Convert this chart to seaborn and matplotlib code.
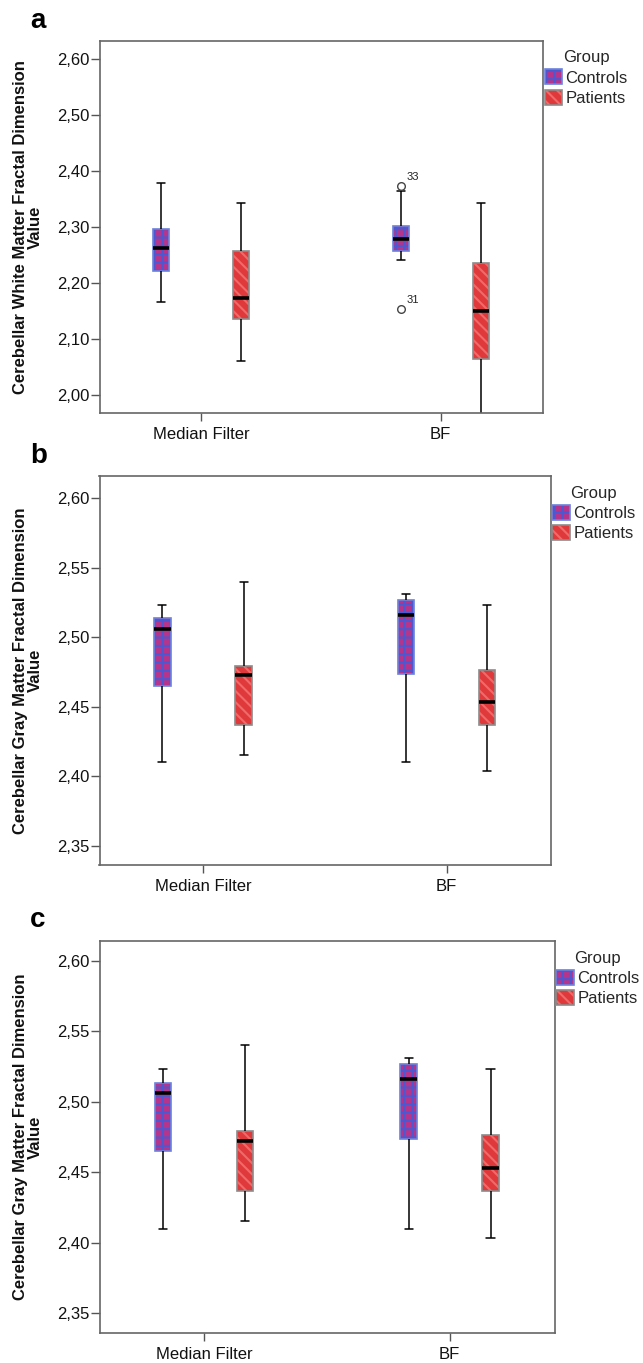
import numpy as np
import pandas as pd
import matplotlib
matplotlib.use("Agg")
import matplotlib.pyplot as plt
import matplotlib.colors as mcolors
from matplotlib.patches import Patch
from matplotlib.ticker import FuncFormatter
import seaborn as sns

# ---------------- data (five-number summaries: low whisker, Q1, median, Q3, high whisker)
filters = ["Median Filter", "BF"]
groups = ["Controls", "Patients"]

a_controls_mf = [2.166, 2.222, 2.263, 2.297, 2.379]
a_patients_mf = [2.061, 2.135, 2.174, 2.258, 2.343]
a_controls_bf = [2.241, 2.258, 2.279, 2.302, 2.365]
a_patients_bf = [1.950, 2.064, 2.150, 2.236, 2.343]
a_outlier_values = [2.373, 2.153]
a_outlier_ids = ["33", "31"]

b_controls_mf = [2.410, 2.465, 2.506, 2.5135, 2.523]
b_patients_mf = [2.4155, 2.4365, 2.4725, 2.4795, 2.540]
b_controls_bf = [2.410, 2.4735, 2.516, 2.527, 2.531]
b_patients_bf = [2.4035, 2.4365, 2.453, 2.4765, 2.523]

c_controls_mf = [2.410, 2.465, 2.506, 2.5135, 2.523]
c_patients_mf = [2.4155, 2.4365, 2.4725, 2.4795, 2.540]
c_controls_bf = [2.410, 2.4735, 2.516, 2.527, 2.531]
c_patients_bf = [2.4035, 2.4365, 2.453, 2.4765, 2.523]

a_ticks = [2.00, 2.10, 2.20, 2.30, 2.40, 2.50, 2.60]
bc_ticks = [2.35, 2.40, 2.45, 2.50, 2.55, 2.60]

ylabel_white = "Cerebellar White Matter Fractal Dimension\nValue"
ylabel_gray = "Cerebellar Gray Matter Fractal Dimension\nValue"

# ---------------- style
sns.set_theme(style="white")
plt.rcParams["font.family"] = ["Liberation Sans", "DejaVu Sans"]
plt.rcParams["hatch.linewidth"] = 1.5

palette = {"Controls": "#b5358c", "Patients": "#e0393b"}
edge_colors = {"Controls": "#6d82dc", "Patients": "#8c8c8c"}
hatch_colors = {"Controls": "#4c58d0", "Patients": "#f06a6a"}
hatches = {"Controls": "++", "Patients": "\\\\\\"}


def set_hatch_color(p, c):
    rgba = mcolors.to_rgba(c)
    if hasattr(p, "set_hatchcolor"):
        try:
            p.set_hatchcolor(rgba)
            return
        except Exception:
            pass
    p._hatch_color = rgba


def long_table(cmf, pmf, cbf, pbf):
    rows = []
    for filt, grp, vals in [("Median Filter", "Controls", cmf), ("Median Filter", "Patients", pmf),
                            ("BF", "Controls", cbf), ("BF", "Patients", pbf)]:
        for v in vals:
            rows.append({"Filter": filt, "Group": grp, "Value": v})
    return pd.DataFrame(rows)


W, H = 643, 1363
fig = plt.figure(figsize=(W / 100, H / 100), dpi=100)


def add_ax(left, top, right, bottom):
    return fig.add_axes([left / W, 1 - bottom / H, (right - left) / W, (bottom - top) / H])


panels = [
    dict(box=(99.5, 41, 543, 413), df=long_table(a_controls_mf, a_patients_mf, a_controls_bf, a_patients_bf),
         ylim=(1.968, 2.632), ticks=a_ticks, ylabel=ylabel_white, letter="a", letter_y=28),
    dict(box=(99.5, 476, 550.5, 865), df=long_table(b_controls_mf, b_patients_mf, b_controls_bf, b_patients_bf),
         ylim=(2.336, 2.616), ticks=bc_ticks, ylabel=ylabel_gray, letter="b", letter_y=463),
    dict(box=(99.5, 941, 554.5, 1333), df=long_table(c_controls_mf, c_patients_mf, c_controls_bf, c_patients_bf),
         ylim=(2.336, 2.614), ticks=bc_ticks, ylabel=ylabel_gray, letter="c", letter_y=927),
]

fmt = FuncFormatter(lambda v, _: f"{v:.2f}".replace(".", ","))
dodge = 0.667 / 4

for i, pnl in enumerate(panels):
    ax = add_ax(*pnl["box"])
    sns.boxplot(data=pnl["df"], x="Filter", y="Value", hue="Group", order=filters, hue_order=groups,
                palette=palette, saturation=1, width=0.667, gap=0.8, whis=(0, 100),
                linecolor="black", linewidth=1.1, showfliers=False, legend=False,
                medianprops=dict(color="black", linewidth=2.6), ax=ax)
    for p in ax.patches:
        fc = mcolors.to_hex(p.get_facecolor())
        for g in groups:
            if fc == mcolors.to_hex(palette[g]):
                p.set_edgecolor(edge_colors[g])
                p.set_linewidth(1.2)
                p.set_hatch(hatches[g])
                set_hatch_color(p, hatch_colors[g])
    ax.set_xlim(-0.425, 1.427)
    ax.set_ylim(*pnl["ylim"])
    ax.set_yticks(pnl["ticks"])
    ax.yaxis.set_major_formatter(fmt)
    ax.set_xlabel("")
    ax.set_ylabel("")
    ax.tick_params(axis="y", left=True, length=6.5, width=1, color="#555555", pad=0.5,
                   labelsize=12, labelcolor="#111111")
    ax.tick_params(axis="x", bottom=True, length=6, width=1, color="#555555", pad=4,
                   labelsize=12, labelcolor="#111111")
    for s in ax.spines.values():
        s.set_color("#666666")
        s.set_linewidth(1.2)

    if i == 0:
        bf_x = filters.index("BF") - dodge
        ax.plot([bf_x] * len(a_outlier_values), a_outlier_values, "o", ms=5.5, mfc="white",
                mec="#444444", mew=1.0, zorder=5)
        for v, lab in zip(a_outlier_values, a_outlier_ids):
            ax.annotate(lab, (bf_x, v), xytext=(4, 3), textcoords="offset points",
                        ha="left", va="bottom", fontsize=8, color="#222222")

    handles = []
    for g in groups:
        h = Patch(facecolor=palette[g], edgecolor=edge_colors[g], hatch=hatches[g], linewidth=1.2)
        set_hatch_color(h, hatch_colors[g])
        handles.append(h)
    leg = ax.legend(handles, groups, title="Group", loc="upper left", bbox_to_anchor=(1.004, 0.975),
                    frameon=False, fontsize=12, title_fontsize=12, handlelength=1.05, handleheight=1.0,
                    handletextpad=0.2, labelspacing=0.25, borderpad=0, borderaxespad=0)
    for lp, g in zip(leg.get_patches(), groups):
        set_hatch_color(lp, hatch_colors[g])

    l, t, r, b = pnl["box"]
    fig.text(28 / W, 1 - ((t + b) / 2) / H, pnl["ylabel"], rotation=90, ha="center", va="center",
             multialignment="center", fontsize=12, fontweight="bold", linespacing=1.05, color="#111111")
    fig.text(30 / W, 1 - pnl["letter_y"] / H, pnl["letter"], ha="left", va="baseline",
             fontsize=20, fontweight="bold", color="black")

fig.savefig("out.png", dpi=100)
